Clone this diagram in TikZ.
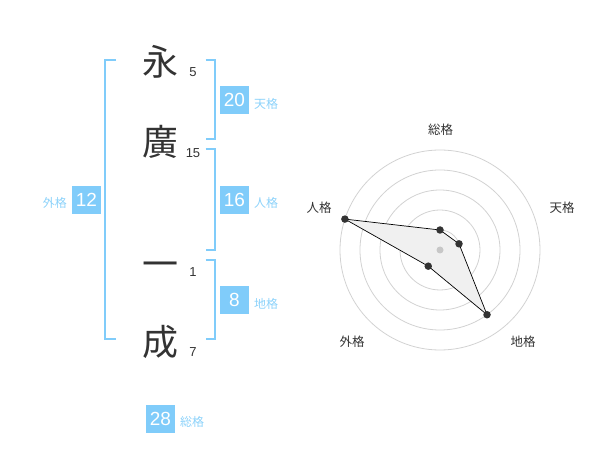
\documentclass[tikz,border=0pt]{standalone}
\usepackage{fontspec}
\setmainfont{Liberation Sans}
\newfontfamily\cjk{Noto Sans CJK JP}
\definecolor{bl}{RGB}{128,204,250}
\definecolor{bllab}{RGB}{140,210,250}
\definecolor{ink}{RGB}{51,51,51}
\definecolor{ring}{RGB}{210,210,210}
\begin{document}
\begin{tikzpicture}[x=1pt,y=-1pt,
  kanji/.style={font=\cjk\fontsize{36}{36}\selectfont,text=ink,inner sep=0pt},
  strokes/.style={font=\fontsize{13}{13}\selectfont,text=ink,inner sep=0pt},
  numbox/.style={fill=bl,text=white,minimum width=29pt,minimum height=28pt,inner sep=0pt,font=\fontsize{19}{19}\selectfont},
  lab/.style={font=\cjk\fontsize{12}{12}\selectfont,text=bllab,inner sep=0pt},
  bracket/.style={draw=bl,line width=2pt},
  rlab/.style={font=\cjk\fontsize{12.5}{12.5}\selectfont,text=ink,inner sep=0pt},
  ringc/.style={draw=ring,line width=0.8pt},
  dot/.style={circle,fill=ink,inner sep=0pt,minimum size=7.5pt}]
\useasboundingbox (0,0) rectangle (600,470);
% characters
\node[kanji] (k1) at (160,62) {永};
\node[kanji] (k2) at (160,142) {廣};
\node[kanji,anchor=base] (k3) at (160,278) {一};
\node[kanji] (k4) at (160,342) {成};
\node[strokes] (s1) at (193,72.5) {5};
\node[strokes] (s2) at (193,153) {15};
\node[strokes] (s3) at (193,272.5) {1};
\node[strokes] (s4) at (193,352.5) {7};
% brackets
\draw[bracket] (116,60) -- (105,60) -- (105,339.5) -- (116,339.5);
\draw[bracket] (205.5,60) -- (214.5,60) -- (214.5,139.5) -- (205.5,139.5);
\draw[bracket] (205.5,149.5) -- (214.5,149.5) -- (214.5,250) -- (205.5,250);
\draw[bracket] (205.5,260) -- (214.5,260) -- (214.5,339.5) -- (205.5,339.5);
% boxes
\node[numbox] (b20) at (234.5,100) {20};
\node[lab,anchor=west] (l20) at (254,104) {天格};
\node[numbox] (b16) at (234.5,200) {16};
\node[lab,anchor=west] (l16) at (254,203) {人格};
\node[numbox] (b12) at (86.5,200) {12};
\node[lab,anchor=east] (l12) at (67,203) {外格};
\node[numbox] (b8) at (234.5,300) {8};
\node[lab,anchor=west] (l8) at (254,304) {地格};
\node[numbox] (b28) at (160.5,419) {28};
\node[lab,anchor=west] (l28) at (180,422) {総格};
% radar
\begin{scope}[shift={(440,250)}]
  \foreach \r in {20,40,60,80,100} \draw[ringc] (0,0) circle (\r);
  \coordinate (pS) at (-90:20);
  \coordinate (pT) at (-18:20);
  \coordinate (pC) at (54:80);
  \coordinate (pG) at (126:20);
  \coordinate (pJ) at (-162:100);
  \draw[fill=black!6,draw=black,line width=0.7pt,line join=round] (pS) -- (pT) -- (pC) -- (pG) -- (pJ) -- cycle;
  \node[circle,fill=black!22,inner sep=0pt,minimum size=7pt] (ctr) at (0,0) {};
  \foreach \p in {pS,pT,pC,pG,pJ} \node[dot] at (\p) {};
\end{scope}
\node[rlab] (rS) at (440.7,130) {総格};
\node[rlab] (rT) at (562,208) {天格};
\node[rlab] (rC) at (523,342) {地格};
\node[rlab] (rG) at (352,342) {外格};
\node[rlab] (rJ) at (319,208) {人格};
\end{tikzpicture}
\end{document}
